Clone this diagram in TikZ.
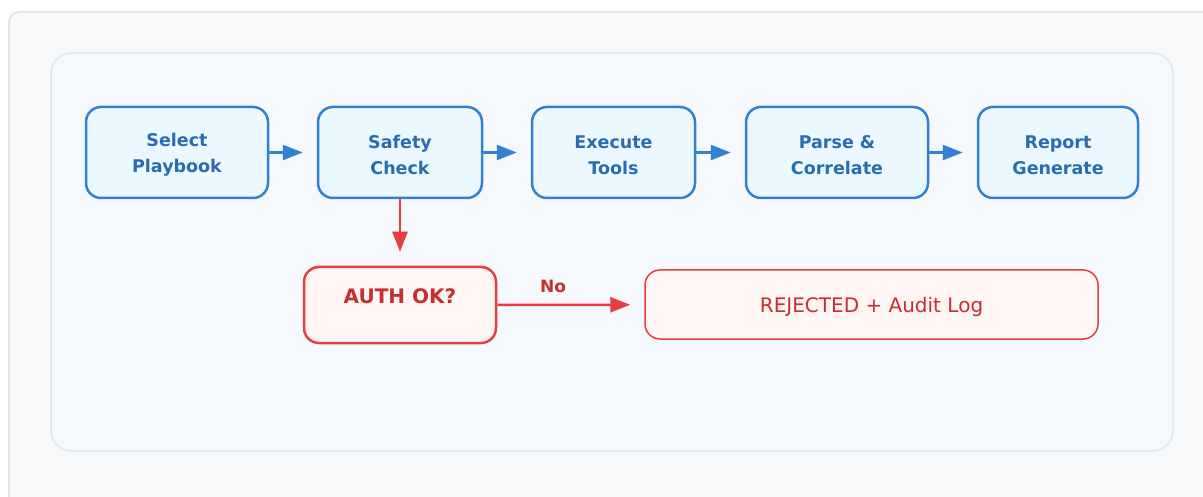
\documentclass[tikz,border=0pt]{standalone}
\usepackage{fontspec}
\setmainfont{DejaVu Sans}
\usetikzlibrary{arrows.meta}
\definecolor{outerfill}{HTML}{F8F9FB}
\definecolor{outerborder}{HTML}{DEE2E6}
\definecolor{panelfill}{HTML}{F5F8FC}
\definecolor{panelborder}{HTML}{E2E8F0}
\definecolor{bluefill}{HTML}{EBF8FF}
\definecolor{blueborder}{HTML}{3182CE}
\definecolor{bluetext}{HTML}{2B6CB0}
\definecolor{redfill}{HTML}{FFF5F5}
\definecolor{redborder}{HTML}{E53E3E}
\definecolor{redtext}{HTML}{C53030}
\tikzset{
  stepbox/.style={draw=blueborder, fill=bluefill, line width=2.5pt, rounded corners=15pt,
    minimum height=91pt, inner sep=0pt},
  steptext/.style={align=center, text=bluetext, inner sep=0pt, yshift=-2.5pt,
    font=\fontsize{17.5}{26}\selectfont\bfseries},
  authbox/.style={draw=redborder, fill=redfill, line width=2.5pt, rounded corners=15pt,
    minimum width=192pt, minimum height=76pt, inner sep=0pt},
  rejbox/.style={draw=redborder, fill=redfill, line width=1.5pt, rounded corners=15pt,
    minimum width=453pt, minimum height=69pt, inner sep=0pt},
  rejtext/.style={text=redtext, inner sep=0pt, yshift=-2pt, font=\fontsize{20}{24}\selectfont},
  barrow/.style={draw=blueborder, line width=2.5pt, -{Triangle[length=20pt,width=15pt]}, shorten >=14pt},
  rarrow/.style={draw=redborder, line width=2.5pt, -{Triangle[length=20pt,width=15pt]}, shorten >=14pt},
  redlabel/.style={text=redtext, font=\fontsize{17}{20}\selectfont\bfseries, inner sep=0pt}
}
\begin{document}
\begin{tikzpicture}[x=1pt,y=-1pt]
\useasboundingbox (0,0) rectangle (1203,497);
\fill[white] (0,0) rectangle (1203,497);
\clip (0,0) rectangle (1203,497);
\draw[fill=outerfill, draw=outerborder, line width=1.5pt, rounded corners=10pt] (9,12) rectangle (1230,530);
\draw[fill=panelfill, draw=panelborder, line width=1.5pt, rounded corners=20pt] (51,53) rectangle (1173,451);

\node[stepbox, minimum width=182pt, label={[steptext]center:Select\\Playbook}] (b1) at (177,152.5) {};
\node[stepbox, minimum width=164pt, label={[steptext]center:Safety\\Check}] (b2) at (400,152.5) {};
\node[stepbox, minimum width=163pt, label={[steptext]center:Execute\\Tools}] (b3) at (613.5,152.5) {};
\node[stepbox, minimum width=182pt, label={[steptext]center:Parse \&\\Correlate}] (b4) at (837,152.5) {};
\node[stepbox, minimum width=160pt, label={[steptext]center:Report\\Generate}] (b5) at (1058,152.5) {};

\node[authbox] (auth) at (400,305) {};
\node[text=redtext, font=\fontsize{20}{24}\selectfont\bfseries, inner sep=0pt] (authtext) at (400,296) {AUTH OK?};
\node[rejbox, label={[rejtext]center:REJECTED + Audit Log}] (rej) at (871.5,304.5) {};

\draw[barrow] (b1) -- (b2);
\draw[barrow] (b2) -- (b3);
\draw[barrow] (b3) -- (b4);
\draw[barrow] (b4) -- (b5);
\draw[rarrow] (b2) -- (auth);
\draw[rarrow] (auth) -- (rej);
\node[redlabel] (nolabel) at (553,286) {No};
\end{tikzpicture}
\end{document}
